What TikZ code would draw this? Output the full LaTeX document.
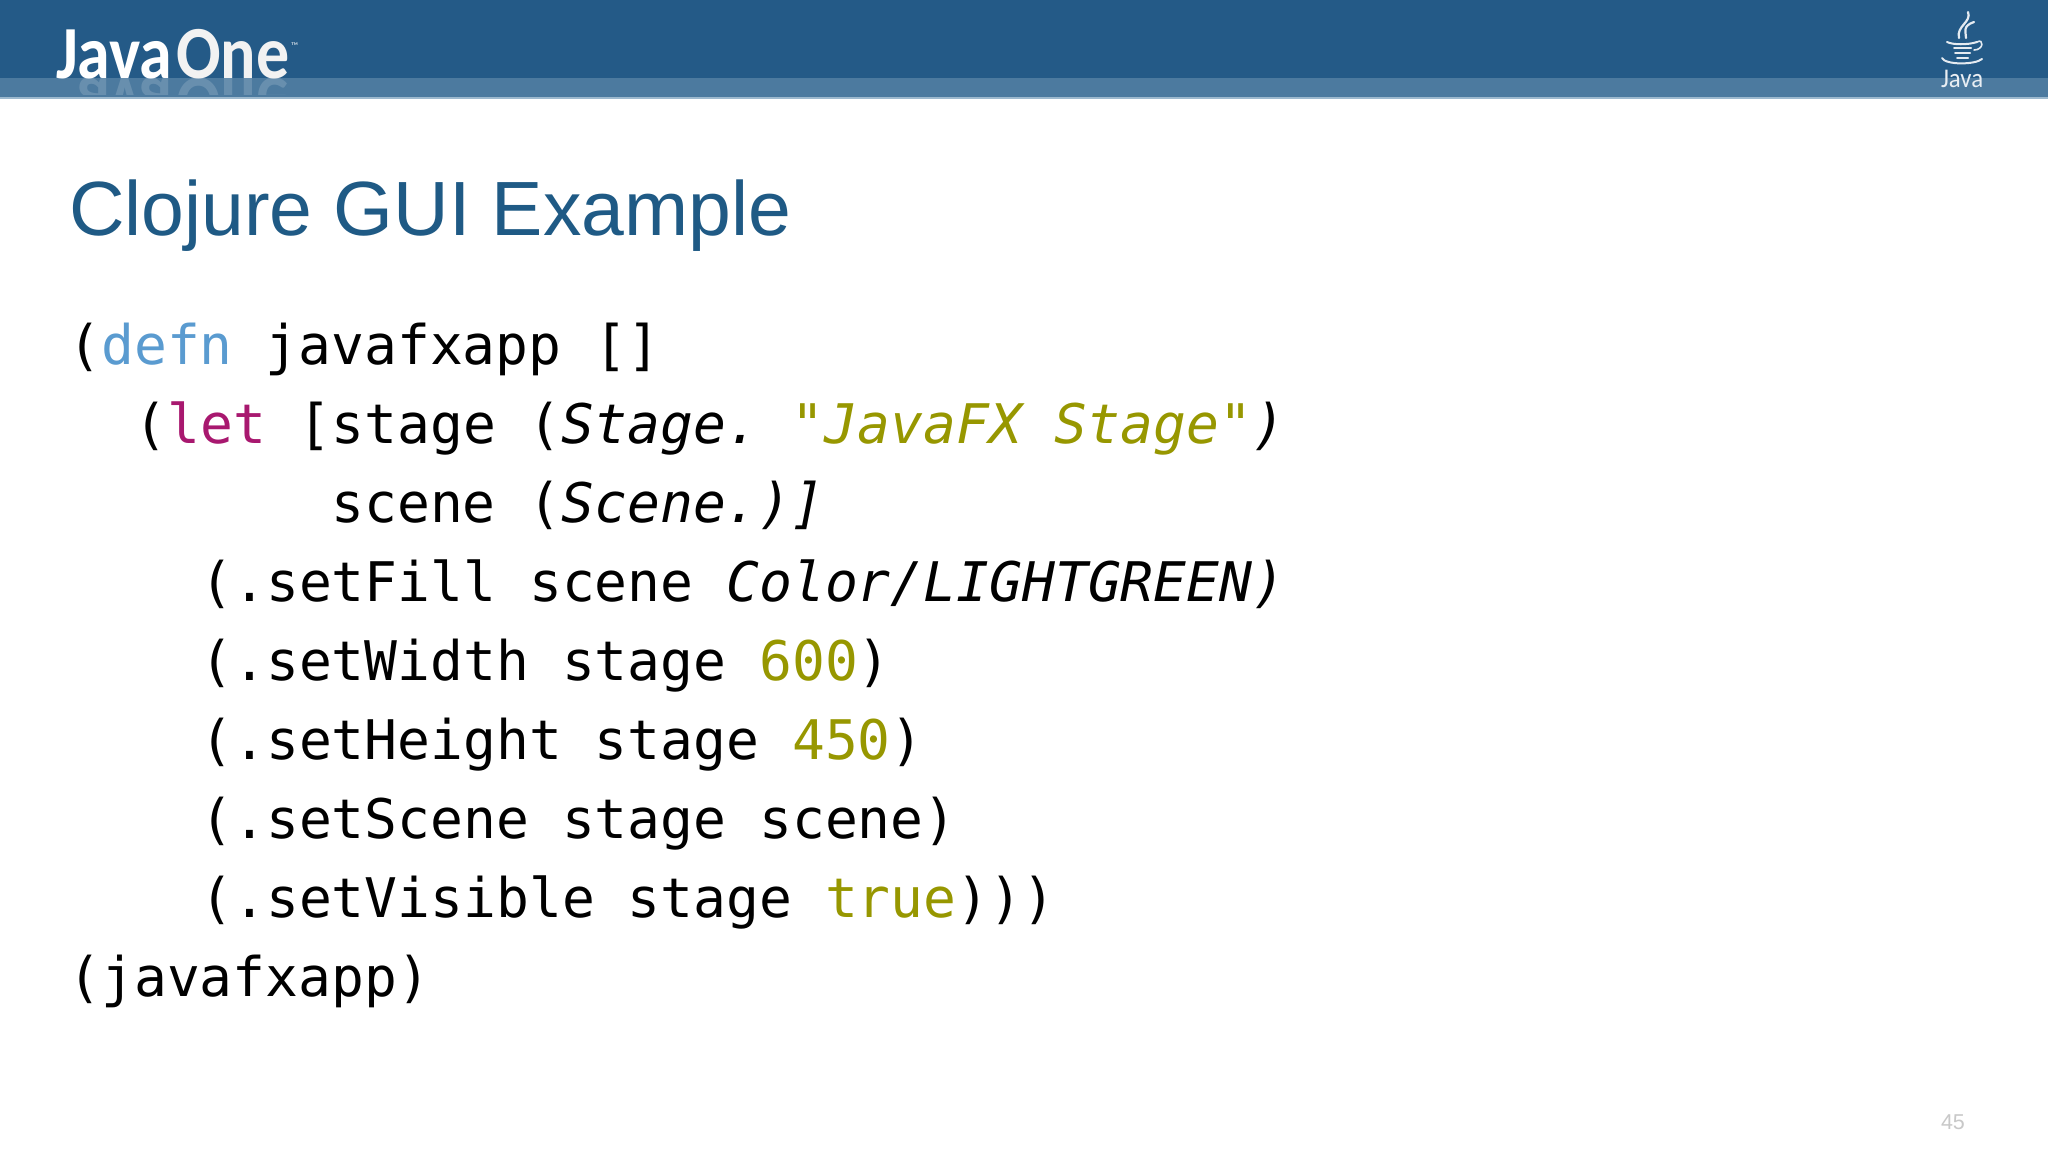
\documentclass[tikz,border=0pt]{standalone}
\usepackage{fontspec}
\setmainfont{Liberation Sans}
\newfontfamily\codefont{DejaVu Sans Mono}
\newfontfamily\logofont{Carlito}
\frenchspacing
\definecolor{bandtop}{HTML}{245A87}
\definecolor{bandlow}{HTML}{4C7A9F}
\definecolor{bandline}{HTML}{9DB9CE}
\definecolor{titleblue}{HTML}{1F5A85}
\definecolor{kwblue}{HTML}{5A9BD0}
\definecolor{kwmag}{HTML}{A8186F}
\definecolor{lit}{HTML}{979700}
\definecolor{pagegrey}{HTML}{C8C8C8}
\newcommand{\cblue}[1]{\textcolor{kwblue}{#1}}
\newcommand{\cmag}[1]{\textcolor{kwmag}{#1}}
\newcommand{\clit}[1]{\textcolor{lit}{#1}}
\newcommand{\ci}[1]{{\itshape #1}}
\tikzset{
  codeline/.style={anchor=base west,inner sep=0pt,outer sep=0pt,text=black,
    font=\codefont\fontsize{54.6}{60}\selectfont},
  logotext/.style={anchor=base west,inner sep=0pt,outer sep=0pt},
  logojava/.style={logotext,xscale=.88,font=\logofont\bfseries\fontsize{75}{75}\selectfont},
  logoone/.style={logotext,xscale=.88,font=\logofont\bfseries\fontsize{75}{75}\selectfont},
  cupline/.style={draw=white!88!bandtop,line cap=round,fill=none}
}
\begin{document}
\begin{tikzpicture}[x=1pt,y=-1pt]
\useasboundingbox (0,0) rectangle (2048,1152);
\fill[white] (0,0) rectangle (2048,1152);
% header band
\fill[bandtop] (0,0) rectangle (2048,78);
\fill[bandlow] (0,78) rectangle (2048,97);
\fill[bandline] (0,97) rectangle (2048,99);
% JavaOne logo
\begin{scope}
\clip (0,78) rectangle (2048,94);
\node[logojava,text=white,opacity=.16,yscale=-1] (javarefl) at (56,78) {\phantom{J}ava};
\node[logoone,text=white,opacity=.16,yscale=-1] (onerefl) at (176,78) {One};
\end{scope}
\node[logojava,text=white] (logojavaword) at (56,78) {Java};
\node[logoone,text=white!90!gray] (logooneword) at (176,78) {One};
\node[logotext,text=white!85!bandtop,font=\logofont\fontsize{10}{10}\selectfont] (logotm) at (291,49) {™};
% Java cup logo
\node[logotext,xscale=.92,text=white!90!bandtop,font=\logofont\fontsize{27}{27}\selectfont] (javaword) at (1941,87) {Java};
\draw[cupline,line width=2.2pt] (1968,12) .. controls (1972,22) and (1956,26) .. (1959,38);
\draw[cupline,line width=2.2pt] (1974,22) .. controls (1962,26) and (1966,32) .. (1966,38);
\draw[cupline,line width=2pt] (1947,42) .. controls (1953,45) and (1968,45) .. (1977,42);
\draw[cupline,line width=1.6pt] (1977,42) .. controls (1984,38) and (1984,50) .. (1974,50);
\draw[cupline,line width=2pt] (1954,48) -- (1971,48);
\draw[cupline,line width=2pt] (1955,53) -- (1970,53);
\draw[cupline,line width=2pt] (1957,58) -- (1968,58);
\draw[cupline,line width=2pt] (1942,58) .. controls (1945,65) and (1975,65) .. (1982,59);
% title
\node[logotext,text=titleblue,font=\fontsize{76.9}{80}\selectfont] (title) at (69,235) {Clojure GUI Example};
% code
\node[codeline] (l1) at (68.5,364) {(\cblue{defn} javafxapp []};
\node[codeline] (l2) at (134.5,443) {(\cmag{let} [stage (\ci{Stage.} \clit{\ci{"JavaFX Stage"}}\ci{)}};
\node[codeline] (l3) at (331.5,522) {scene (\ci{Scene.)]}};
\node[codeline] (l4) at (200.5,601) {(.setFill scene \ci{Color/LIGHTGREEN)}};
\node[codeline] (l5) at (200.5,680) {(.setWidth stage \clit{600})};
\node[codeline] (l6) at (200.5,759) {(.setHeight stage \clit{450})};
\node[codeline] (l7) at (200.5,838) {(.setScene stage scene)};
\node[codeline] (l8) at (200.5,917) {(.setVisible stage \clit{true})))};
\node[codeline] (l9) at (68.5,996) {(javafxapp)};
% page number
\node[logotext,text=pagegrey,font=\fontsize{21.5}{22}\selectfont] (page) at (1941,1129) {45};
\end{tikzpicture}
\end{document}
